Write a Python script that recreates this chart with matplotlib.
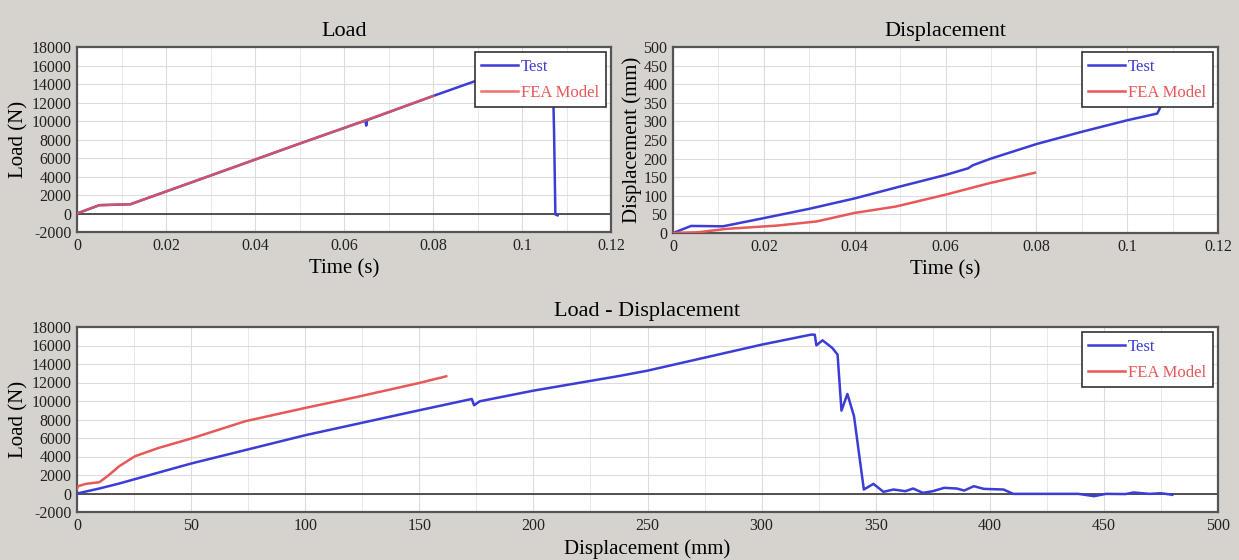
import numpy as np
import matplotlib.pyplot as plt
from matplotlib.ticker import MultipleLocator

plt.rcParams['font.family'] = ['Liberation Serif', 'DejaVu Serif']

# Load vs time (top left)
t_load_test = [0, 0.005, 0.012, 0.03, 0.05, 0.0648, 0.065, 0.0652, 0.08, 0.09, 0.1, 0.1068, 0.1072, 0.1075, 0.108]
load_test = [0, 900, 1000, 4100, 7550, 10050, 9500, 10100, 12700, 14400, 16100, 17200, 9000, -100, -200]
t_load_fea = [0, 0.005, 0.012, 0.03, 0.05, 0.065, 0.08]
load_fea = [0, 900, 1000, 4100, 7550, 10100, 12700]

# Displacement vs time (top right)
t_disp_test = [0, 0.004, 0.011, 0.02, 0.03, 0.04, 0.05, 0.06, 0.065, 0.066, 0.07, 0.08, 0.09, 0.1, 0.1066, 0.107, 0.1075]
disp_test = [0, 19, 18, 40, 65, 93, 125, 156, 174, 182, 200, 239, 272, 303, 321, 330, 345]
t_disp_fea = [0, 0.0056, 0.0117, 0.023, 0.0316, 0.040, 0.049, 0.060, 0.0697, 0.0797]
disp_fea = [0, 2, 11, 20, 31, 54, 71, 103, 134, 162]

# Load vs displacement (bottom)
d_test = [0, 9.8, 18.5, 50, 100, 150, 173, 174, 176.5, 200, 237.5, 250, 300, 321.6, 323.3, 324,
          326.7, 331, 333.3, 335, 337.6, 340.5, 344.8, 349, 353.4, 357.8, 363, 366.4, 370.7, 375,
          380, 385.5, 388.8, 393, 397.4, 406, 410.3, 418, 438.8, 445.7, 450.9, 459.5, 463, 470, 475, 480]
ld_test = [0, 540, 1080, 3240, 6300, 9000, 10220, 9540, 9970, 11120, 12700, 13280, 16090, 17170, 17170, 16020,
           16560, 15730, 15010, 8960, 10760, 8350, 430, 1040, 180, 430, 250, 540, 70, 250,
           610, 540, 320, 790, 500, 430, -40, -40, -40, -290, -40, -60, 110, -40, 30, -140]
d_fea = [0, 0.5, 3.8, 9.8, 14, 18.5, 25.4, 35.8, 50, 73.7, 100, 122, 150, 161.8]
ld_fea = [500, 790, 1040, 1220, 2000, 2950, 4030, 4930, 5940, 7810, 9250, 10400, 11950, 12670]

BG = '#d6d3ce'
BLUE = '#3c3cd6'
RED = '#e85858'

fig = plt.figure(figsize=(12.39, 5.6), dpi=100, facecolor=BG)
W, H = 1239, 560

def make_ax(x0, y0, x1, y1):
    return fig.add_axes([x0 / W, 1 - y1 / H, (x1 - x0) / W, (y1 - y0) / H])

def style(ax):
    ax.set_facecolor('white')
    for s in ax.spines.values():
        s.set_color('#555555')
        s.set_linewidth(1.6)
    ax.grid(which='major', color='#dcdcdc', linewidth=0.8)
    ax.grid(which='minor', axis='x', color='#e8e8e8', linewidth=0.7)
    ax.tick_params(which='both', length=0, labelsize=11.5, pad=4, colors='#222222')
    ax.axhline(0, color='#444444', linewidth=1.3, zorder=1)
    ax.set_axisbelow(True)

def legend(ax):
    lg = ax.legend(loc='upper right', fontsize=12, frameon=True, fancybox=False,
                   edgecolor='#333333', framealpha=1, borderpad=0.4, handlelength=2.2,
                   handletextpad=0.2, labelspacing=0.6, borderaxespad=0.3)
    lg.get_frame().set_linewidth(1.2)
    for txt, c in zip(lg.get_texts(), [BLUE, RED]):
        txt.set_color(c)

time_ticks = [0, 0.02, 0.04, 0.06, 0.08, 0.1, 0.12]
time_labels = ['0', '0.02', '0.04', '0.06', '0.08', '0.1', '0.12']

# Top left
ax1 = make_ax(77, 47, 611, 232)
style(ax1)
ax1.plot(t_load_test, load_test, color=BLUE, lw=1.8, label='Test', zorder=3)
ax1.plot(t_load_fea, load_fea, color=RED, lw=1.8, alpha=0.85, label='FEA Model', zorder=4)
ax1.set_xlim(0, 0.12)
ax1.set_ylim(-2000, 18000)
ax1.set_xticks(time_ticks)
ax1.set_xticklabels(time_labels)
ax1.xaxis.set_minor_locator(MultipleLocator(0.01))
ax1.set_yticks(np.arange(-2000, 18001, 2000))
ax1.set_yticklabels([str(v) for v in range(-2000, 18001, 2000)])
ax1.set_xlabel('Time (s)', fontsize=15, labelpad=4)
ax1.set_ylabel('Load (N)', fontsize=15, labelpad=2)
ax1.set_title('Load', fontsize=16, pad=8)
legend(ax1)

# Top right
ax2 = make_ax(673, 47, 1218, 233)
style(ax2)
ax2.plot(t_disp_test, disp_test, color=BLUE, lw=1.8, label='Test', zorder=3)
ax2.plot(t_disp_fea, disp_fea, color=RED, lw=1.8, label='FEA Model', zorder=4)
ax2.set_xlim(0, 0.12)
ax2.set_ylim(0, 500)
ax2.set_xticks(time_ticks)
ax2.set_xticklabels(time_labels)
ax2.xaxis.set_minor_locator(MultipleLocator(0.01))
ax2.set_yticks(np.arange(0, 501, 50))
ax2.set_xlabel('Time (s)', fontsize=15, labelpad=4)
ax2.set_ylabel('Displacement (mm)', fontsize=15, labelpad=1)
ax2.set_title('Displacement', fontsize=16, pad=8)
legend(ax2)

# Bottom
ax3 = make_ax(77, 327, 1218, 512)
style(ax3)
ax3.plot(d_test, ld_test, color=BLUE, lw=1.8, label='Test', zorder=3)
ax3.plot(d_fea, ld_fea, color=RED, lw=1.8, label='FEA Model', zorder=4)
ax3.set_xlim(0, 500)
ax3.set_ylim(-2000, 18000)
ax3.set_xticks(np.arange(0, 501, 50))
ax3.xaxis.set_minor_locator(MultipleLocator(25))
ax3.set_yticks(np.arange(-2000, 18001, 2000))
ax3.set_yticklabels([str(v) for v in range(-2000, 18001, 2000)])
ax3.set_xlabel('Displacement (mm)', fontsize=15, labelpad=4)
ax3.set_ylabel('Load (N)', fontsize=15, labelpad=2)
ax3.set_title('Load - Displacement', fontsize=16, pad=8)
legend(ax3)

fig.savefig('out.png', dpi=100, facecolor=BG)
